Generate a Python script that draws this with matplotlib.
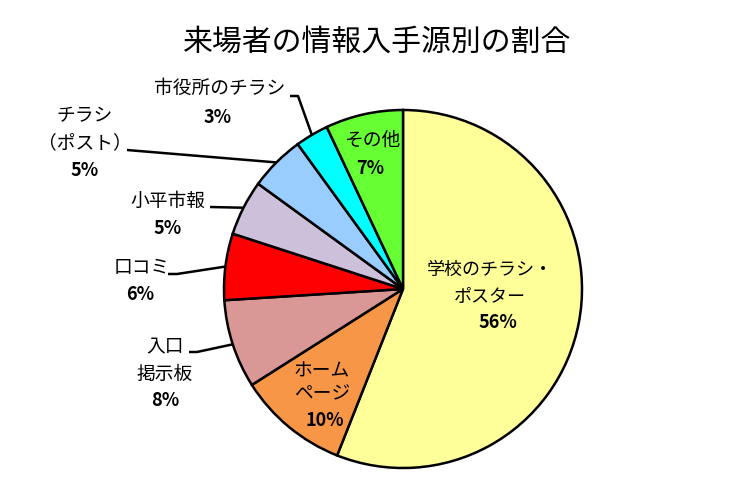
import matplotlib
matplotlib.use("Agg")
import matplotlib.pyplot as plt
import numpy as np

plt.rcParams['font.family'] = ['Noto Sans CJK JP', 'DejaVu Sans']

title = "来場者の情報入手源別の割合"
categories = ["学校のチラシ・\nポスター", "ホーム\nページ", "入口\n掲示板", "口コミ",
              "小平市報", "チラシ\n（ポスト）", "市役所のチラシ", "その他"]
values = [56, 10, 8, 6, 5, 5, 3, 7]
colors = ["#FFFF99", "#F79646", "#D99795", "#FF0000", "#CCC0DA", "#99CCFF", "#00FFFF", "#66FF33"]

W, H = 754, 486
CX, CY, R = 403, 289, 179

fig = plt.figure(figsize=(W/100, H/100), dpi=100)
ax = fig.add_axes([0, 0, 1, 1])

wedges, _ = ax.pie(values, colors=colors, startangle=90, counterclock=False, radius=1,
                   wedgeprops=dict(edgecolor="black", linewidth=1.8))
ax.set_xlim(-CX/R, (W-CX)/R)
ax.set_ylim(-(H-CY)/R, CY/R)
ax.set_aspect('equal')
ax.axis('off')

def P(px, py):
    return ((px-CX)/R, (CY-py)/R)

# label placements in pixel coords: first-line position, line gap, percent position, leader start
layout = [
    dict(xy=(490, 270), gap=27, pct=(498, 322), fs=13),
    dict(xy=(322, 371), gap=23, pct=(325, 421), fs=13.5),
    dict(xy=(165, 347), gap=27, pct=(165, 400), fs=13.5, path=[(189, 352), (197, 352)]),
    dict(xy=(142, 267), gap=27, pct=(140, 295), fs=13.5, path=[(168, 274), (177, 274)]),
    dict(xy=(168, 201), gap=27, pct=(168, 228), fs=13.5, path=[(210, 207)]),
    dict(xy=(85, 116), gap=27, pct=(85, 170), fs=13.5, path=[(127, 150)]),
    dict(xy=(220, 88), gap=27, pct=(218, 117), fs=13.5, path=[(290, 96), (298, 96)]),
    dict(xy=(372, 140), gap=27, pct=(370, 168), fs=13.5),
]

for w, cat, val, lay in zip(wedges, categories, values, layout):
    for i, line in enumerate(cat.split("\n")):
        x, y = P(lay["xy"][0], lay["xy"][1] + i * lay["gap"])
        ax.text(x, y, line, ha="center", va="center", fontsize=lay["fs"])
    px, py = P(*lay["pct"])
    ax.text(px, py, f"{val}%", ha="center", va="center", fontsize=13, fontweight="bold")
    if "path" in lay:
        ang = np.deg2rad((w.theta1 + w.theta2) / 2)
        pts = [P(*p) for p in lay["path"]] + [(np.cos(ang), np.sin(ang))]
        xs, ys = zip(*pts)
        ax.plot(xs, ys, color="black", lw=1.8, solid_capstyle="butt")

tx, ty = P(377, 42)
ax.text(tx, ty, title, ha="center", va="center", fontsize=21.5)

fig.savefig("out.png", dpi=100)
